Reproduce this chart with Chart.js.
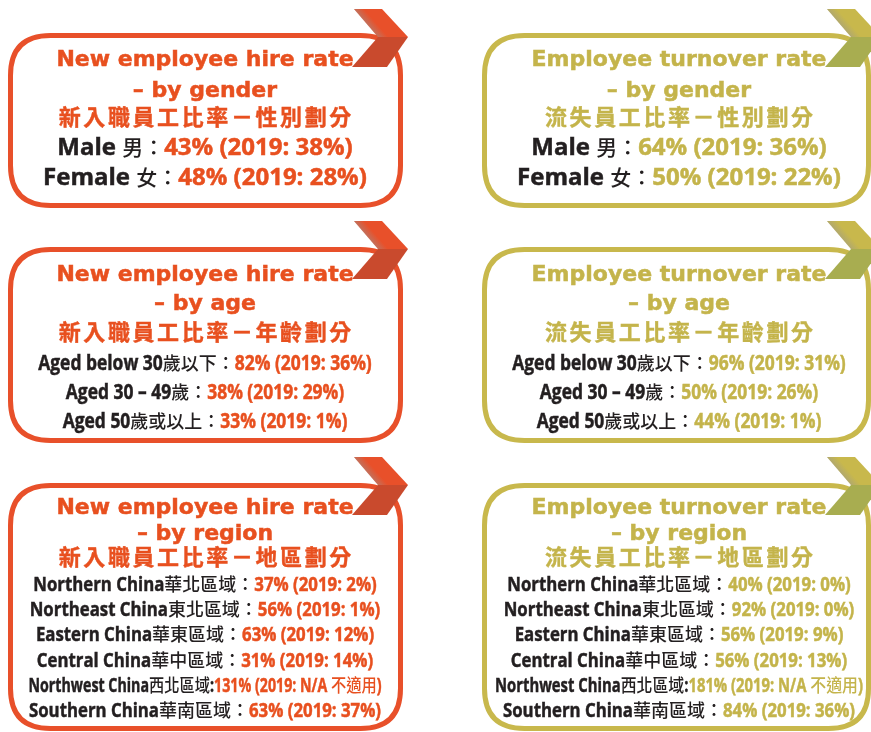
<!DOCTYPE html>
<html><head><meta charset="utf-8">
<script src="https://cdn.jsdelivr.net/npm/chart.js@4"></script>
<style>html,body{margin:0;padding:0;background:#fff}#wrap{width:871px;height:732px}</style>
</head><body><div id="wrap"><canvas id="c" width="871" height="732"></canvas></div>
<script>
// ---- data ----
const panelTitles = ['New employee hire rate', 'Employee turnover rate'];
const panelSubtitles = ['– by gender', '– by age', '– by region'];
const zhPrefixes = ['新入職員工比率', '流失員工比率'];
const zhSuffixes = ['性別劃分', '年齡劃分', '地區劃分'];
const genderLabels = ['Male 男', 'Female 女'];
const hireGender2020 = [43, 48];
const hireGender2019 = [38, 28];
const turnoverGender2020 = [64, 50];
const turnoverGender2019 = [36, 22];
const ageLabels = ['Aged below 30歲以下', 'Aged 30 – 49歲', 'Aged 50歲或以上'];
const hireAge2020 = [82, 38, 33];
const hireAge2019 = [36, 29, 1];
const turnoverAge2020 = [96, 50, 44];
const turnoverAge2019 = [31, 26, 1];
const regionLabels = ['Northern China華北區域', 'Northeast China東北區域', 'Eastern China華東區域', 'Central China華中區域', 'Northwest China西北區域', 'Southern China華南區域'];
const hireRegion2020 = [37, 56, 63, 31, 131, 63];
const hireRegion2019 = [2, 1, 12, 14, null, 37];
const turnoverRegion2020 = [40, 92, 56, 56, 181, 84];
const turnoverRegion2019 = [0, 0, 9, 13, null, 36];
const naLabel = 'N/A 不適用';

// ---- layout / style ----
const BLACK = '#231F20';
const cols = [
  {left: 10.5, right: 400.5, cx: 205, chevX: 352, main: '#E8502A', dark: '#C94A2D', text: '#E8501F', maxW: 353},
  {left: 484.5, right: 868.5, cx: 679, chevX: 825, main: '#C8B84C', dark: '#A8AD50', text: '#C4B44B', maxW: 368}
];
const rows = [
  {top: 35.5, bottom: 205.5, chevTop: 8, titleBase: 66, subBase: 97, zhMid: 117, first: 155, step: 30,
   latin: 'bold 24px "Open Sans"', cjk: '500 21px "Noto Sans CJK TC"', sx: 1.0},
  {top: 249.5, bottom: 440.5, chevTop: 220, titleBase: 281, subBase: 310, zhMid: 332, first: 370, step: 29,
   latin: 'bold 21px "Open Sans"', cjk: '500 18px "Noto Sans CJK TC"', sx: 0.83},
  {top: 485.5, bottom: 728.5, chevTop: 456, titleBase: 514, subBase: 540, zhMid: 557, first: 591, step: 25.2,
   latin: 'bold 20px "Open Sans"', cjk: '500 18px "Noto Sans CJK TC"', sx: 0.84}
];

function pct(v) { return v === null ? naLabel : v + '%'; }
function panelLines(r, c) {
  const sets = [
    [genderLabels, [hireGender2020, turnoverGender2020], [hireGender2019, turnoverGender2019]],
    [ageLabels, [hireAge2020, turnoverAge2020], [hireAge2019, turnoverAge2019]],
    [regionLabels, [hireRegion2020, turnoverRegion2020], [hireRegion2019, turnoverRegion2019]]
  ][r];
  const labels = sets[0], cur = sets[1][c], prev = sets[2][c];
  return labels.map((lab, i) => ({
    label: lab + (prev[i] === null ? ':' : '：'),
    value: cur[i] + '% (2019: ' + pct(prev[i]) + ')'
  }));
}

function isCJK(ch) { return /[\u2E80-\u9FFF\uFF00-\uFFEF\u3000-\u303F]/.test(ch); }
function drawRuns(ctx, segs, cx, base, latinFont, cjkFont, sx, maxW) {
  const runs = [];
  segs.forEach(s => {
    for (const ch of s.text) {
      const cj = isCJK(ch);
      const last = runs[runs.length - 1];
      if (last && last.cjk === cj && last.color === s.color) last.text += ch;
      else runs.push({text: ch, cjk: cj, color: s.color});
    }
  });
  let total = 0;
  runs.forEach(r => {
    ctx.font = r.cjk ? cjkFont : latinFont;
    r.w = ctx.measureText(r.text).width * (r.cjk ? 1 : sx);
    total += r.w;
  });
  const k = total > maxW ? maxW / total : 1;
  let x = cx - total * k / 2;
  runs.forEach(r => {
    ctx.save();
    ctx.font = r.cjk ? cjkFont : latinFont;
    ctx.fillStyle = r.color;
    ctx.strokeStyle = r.color;
    ctx.textAlign = 'left';
    ctx.textBaseline = 'alphabetic';
    ctx.translate(x, base);
    ctx.scale((r.cjk ? 1 : sx) * k, 1);
    ctx.fillText(r.text, 0, 0);
    if (!r.cjk) { ctx.lineWidth = 0.5; ctx.strokeText(r.text, 0, 0); }
    ctx.restore();
    x += r.w * k;
  });
}

function roundBox(ctx, l, t, r, b, rad) {
  ctx.beginPath();
  ctx.moveTo(l + rad, t);
  ctx.lineTo(r - rad, t);
  ctx.quadraticCurveTo(r, t, r, t + rad);
  ctx.lineTo(r, b - rad);
  ctx.quadraticCurveTo(r, b, r - rad, b);
  ctx.lineTo(l + rad, b);
  ctx.quadraticCurveTo(l, b, l, b - rad);
  ctx.lineTo(l, t + rad);
  ctx.quadraticCurveTo(l, t, l + rad, t);
  ctx.closePath();
}

function chevron(ctx, x0, t, main, dark) {
  const A = [x0 + 2, t + 1], B = [x0 + 30, t + 1], C = [x0 + 56, t + 29], D = [x0 + 26, t + 29],
        E = [x0 + 35, t + 59], F = [x0, t + 59];
  const poly = (pts, fill) => {
    ctx.beginPath(); ctx.moveTo(pts[0][0], pts[0][1]);
    pts.slice(1).forEach(p => ctx.lineTo(p[0], p[1]));
    ctx.closePath(); ctx.fillStyle = fill; ctx.fill();
  };
  poly([D, C, E, F], dark);
  poly([A, B, C, D], main);
  const g = ctx.createLinearGradient(x0 + 12, t + 15, x0 + 19, t + 9);
  g.addColorStop(0, 'rgba(150,150,150,0.55)');
  g.addColorStop(1, 'rgba(150,150,150,0)');
  ctx.save();
  ctx.beginPath(); ctx.moveTo(A[0], A[1]); ctx.lineTo(B[0], B[1]); ctx.lineTo(C[0], C[1]); ctx.lineTo(D[0], D[1]); ctx.closePath();
  ctx.clip();
  ctx.fillStyle = g;
  ctx.fillRect(x0, t, 40, 30);
  ctx.restore();
}

const infographic = {
  id: 'infographic',
  beforeDraw(chart) {
    const ctx = chart.ctx;
    ctx.save(); ctx.fillStyle = '#fff'; ctx.fillRect(0, 0, chart.width, chart.height); ctx.restore();
  },
  afterDraw(chart) {
    const ctx = chart.ctx;
    rows.forEach((row, r) => {
      cols.forEach((col, c) => {
        ctx.save();
        roundBox(ctx, col.left, row.top, col.right, row.bottom, 40);
        ctx.lineWidth = 5; ctx.strokeStyle = col.main; ctx.stroke();
        ctx.restore();
        chevron(ctx, col.chevX, row.chevTop, col.main, col.dark);
        // titles
        ctx.save();
        ctx.fillStyle = col.text; ctx.strokeStyle = col.text; ctx.lineWidth = 0.5;
        ctx.textAlign = 'center'; ctx.textBaseline = 'alphabetic';
        ctx.font = 'bold 22px "DejaVu Sans"';
        ctx.fillText(panelTitles[c], col.cx, row.titleBase);
        ctx.strokeText(panelTitles[c], col.cx, row.titleBase);
        ctx.fillText(panelSubtitles[r], col.cx, row.subBase);
        ctx.strokeText(panelSubtitles[r], col.cx, row.subBase);
        const zh = zhPrefixes[c] + '－' + zhSuffixes[r];
        const chars = Array.from(zh), pitch = 24.6;
        ctx.font = 'bold 22px "Noto Sans CJK TC"';
        ctx.textBaseline = 'middle';
        ctx.lineWidth = 0.4;
        chars.forEach((ch, i) => {
          const x = col.cx - chars.length * pitch / 2 + pitch * (i + 0.5);
          ctx.fillText(ch, x, row.zhMid);
          ctx.strokeText(ch, x, row.zhMid);
        });
        ctx.restore();
        panelLines(r, c).forEach((ln, i) => {
          drawRuns(ctx, [{text: ln.label, color: BLACK}, {text: ln.value, color: col.text}],
            col.cx, row.first + row.step * i, row.latin, row.cjk, row.sx, col.maxW);
        });
      });
    });
  }
};

new Chart(document.getElementById('c'), {
  type: 'bar',
  data: {labels: regionLabels, datasets: []},
  options: {
    responsive: false, animation: false, events: [],
    layout: {padding: 0},
    plugins: {legend: {display: false}, tooltip: {enabled: false}, title: {display: false}},
    scales: {x: {display: false}, y: {display: false}}
  },
  plugins: [infographic]
});
</script></body></html>
